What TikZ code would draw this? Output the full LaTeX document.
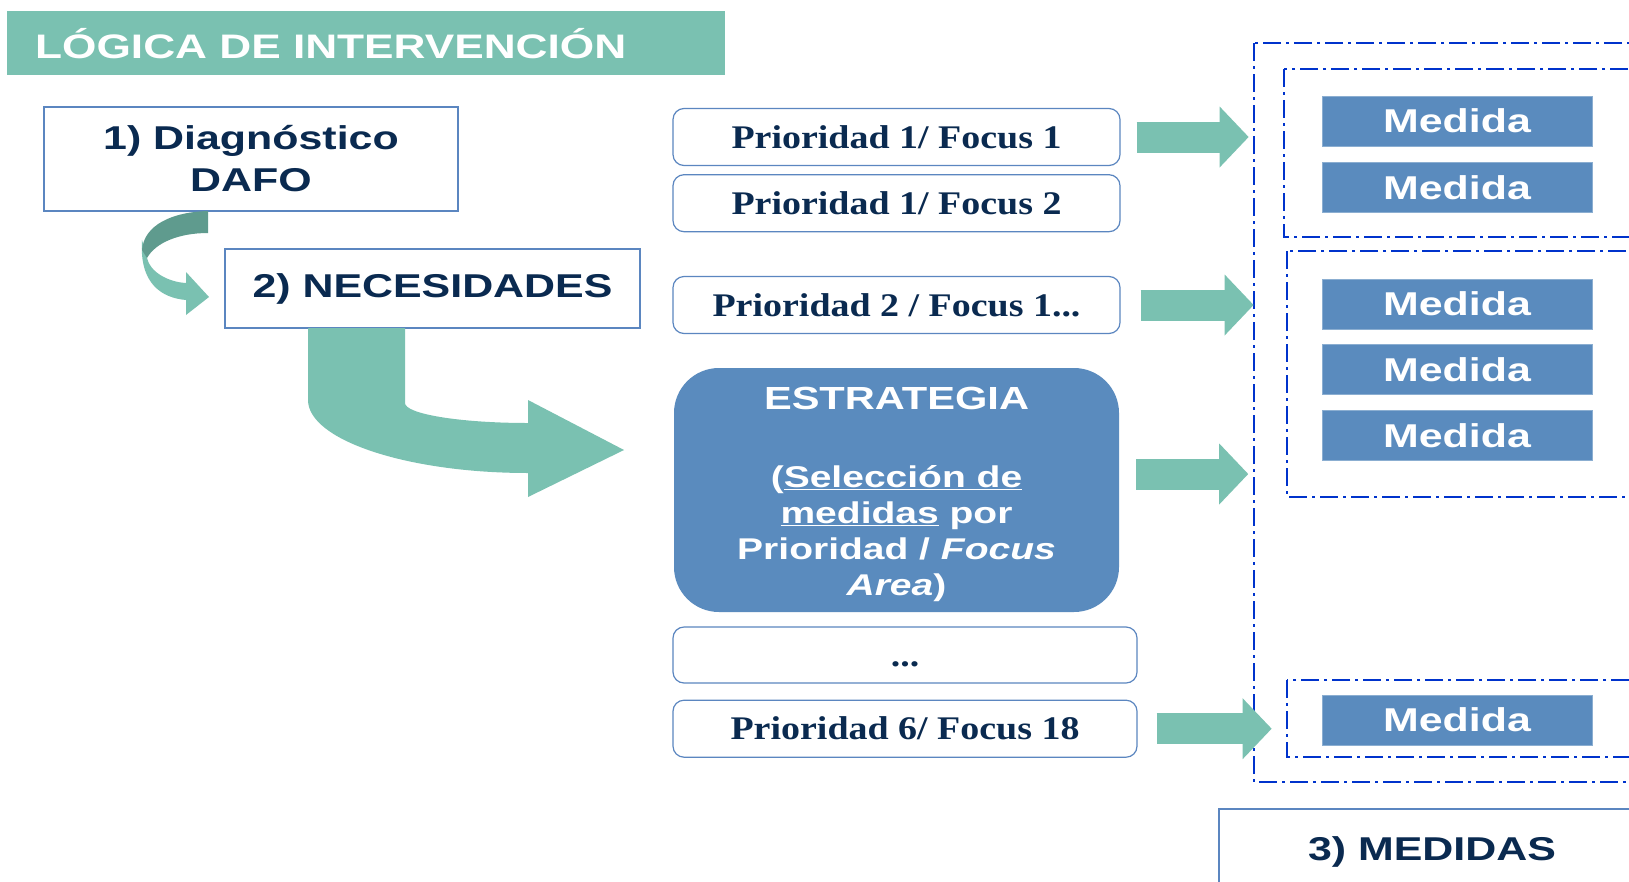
\documentclass[tikz,border=0pt]{standalone}
\usepackage{fontspec}
\setmainfont{Liberation Sans}[FakeStretch=1.3]
\newfontfamily\prioserif{Liberation Serif}[FakeStretch=1.15]
\usetikzlibrary{
  positioning,
  arrows.meta
}
\definecolor{verde}{HTML}{7AC1B1}
\definecolor{verdeosc}{HTML}{5F9B8E}
\definecolor{azulmed}{HTML}{5A8BBE}
\definecolor{borde}{HTML}{5B86C0}
\definecolor{marino}{HTML}{0A2A50}
\definecolor{trazo}{HTML}{0033CC}

\begin{document}
\begin{tikzpicture}[
  x=1pt, y=-1pt,
  every node/.style={font=\bfseries},
  headbar/.style={fill=verde, anchor=north west, minimum width=718pt, minimum height=64pt, inner sep=0pt},
  stage/.style={draw=borde, line width=1.8pt, fill=white, text=marino, align=center, inner sep=0pt, font=\fontsize{33}{42}\selectfont\bfseries},
  prio/.style={draw=borde, line width=1.2pt, rounded corners=11pt, fill=white, minimum width=447pt, minimum height=57pt, text=marino, inner sep=0pt, font=\prioserif\fontsize{33}{36}\selectfont\bfseries},
  strat/.style={fill=azulmed, rounded corners=45pt, minimum width=445pt, minimum height=244pt, inner sep=0pt},
  medida/.style={fill=azulmed, draw=azulmed!70!white, line width=0.8pt, minimum width=270pt, minimum height=50pt, text=white, inner sep=0pt, font=\fontsize{33}{36}\selectfont\bfseries},
  grupo/.style={draw=trazo, line width=2.3pt, dash pattern=on 18pt off 5pt on 3pt off 5pt},
  flecha/.style={verde, line width=31pt, -{Triangle[length=29pt, width=61pt, line width=0pt]}},
  cinta/.style={fill=verde}
]
\useasboundingbox (0,0) rectangle (1629,881);
\clip (0,0) rectangle (1629,881);
\fill[white] (0,0) rectangle (1629,881);

% Title
\node[headbar] (cabecera) at (7,11) {};
\node[anchor=west, text=white, inner sep=0pt, font=\fontsize{34}{36}\selectfont\bfseries] (titulo) at ([xshift=28pt]cabecera.west) {LÓGICA DE INTERVENCIÓN};

% Stages
\node[stage, minimum width=414pt, minimum height=104pt] (diag) at (251,159) {1) Diagnóstico\\DAFO};
\node[stage, minimum width=415pt, minimum height=79pt] (nec) at (432.5,288.5) {2) NECESIDADES};

% Curved arrow diag -> nec
\fill[verde] (142,240) .. controls (139,285) and (163,298) .. (186,300) -- (186,315) -- (209,297) -- (186,272) -- (186,283) .. controls (168,282) and (150,272) .. (147,258) -- cycle;
\fill[verdeosc] (208,211) .. controls (172,212) and (144,225) .. (142,250) -- (147,258) .. controls (156,242) and (180,233) .. (208,233) -- cycle;

% Big arrow nec -> strategy
\fill[verde] (308,328) -- (308,400) .. controls (308,440) and (407,473) .. (528,473) -- (528,497) -- (624,450) -- (528,400) -- (528,423) .. controls (460,423) and (405,414) .. (405,403) -- (405,328) -- cycle;

% Priorities
\node[prio] (p11) at (896.5,137) {Prioridad 1/ Focus 1};
\node[prio, below=8pt of p11] (p12) {Prioridad 1/ Focus 2};
\node[prio] (p21) at (896.5,305) {Prioridad 2 / Focus 1...};
\node[strat] (estrategia) at (896.5,490) {};
\node[text=white, align=center, inner sep=0pt, font=\fontsize{30}{36}\selectfont\bfseries] (estrtxt) at ([yshift=-4pt]estrategia.center) {{\fontsize{32}{36}\selectfont ESTRATEGIA}\\[42pt]
  (\underline{Selección de}\\\underline{medidas} por\\Prioridad / \textit{Focus}\\\textit{Area})};
\node[prio, minimum width=464pt, minimum height=56pt] (puntos) at (905,655) {\vphantom{Prioridad}...};
\node[prio, minimum width=464pt, below=16pt of puntos] (p618) {Prioridad 6/ Focus 18};

% Medidas
\node[medida] (m1) at (1457,121) {Medida};
\node[medida, below=16pt of m1] (m2) {Medida};
\node[medida] (m3) at (1457,304) {Medida};
\node[medida, below=15pt of m3] (m4) {Medida};
\node[medida, below=15pt of m4] (m5) {Medida};
\node[medida] (m6) at (1457,720) {Medida};

% Groups
\draw[grupo] (1254,43) rectangle (1660,782);
\draw[grupo] (1284,69) rectangle (1660,237);
\draw[grupo] (1287,251) rectangle (1660,497);
\draw[grupo] (1287,680) rectangle (1660,757);

% Arrows to medidas
\draw[flecha] ([xshift=16pt]p11.east) -- ++(112,0);
\draw[flecha] ([xshift=20pt]p21.east) -- ++(113,0);
\draw[flecha] ([xshift=17pt, yshift=16pt]estrategia.east) -- ++(112,0);
\draw[flecha] ([xshift=19pt]p618.east) -- ++(115,0);

% Stage 3
\node[stage, minimum width=426pt, minimum height=86pt] (medidas) at (1432,852) {3) MEDIDAS};

\end{tikzpicture}
\end{document}
